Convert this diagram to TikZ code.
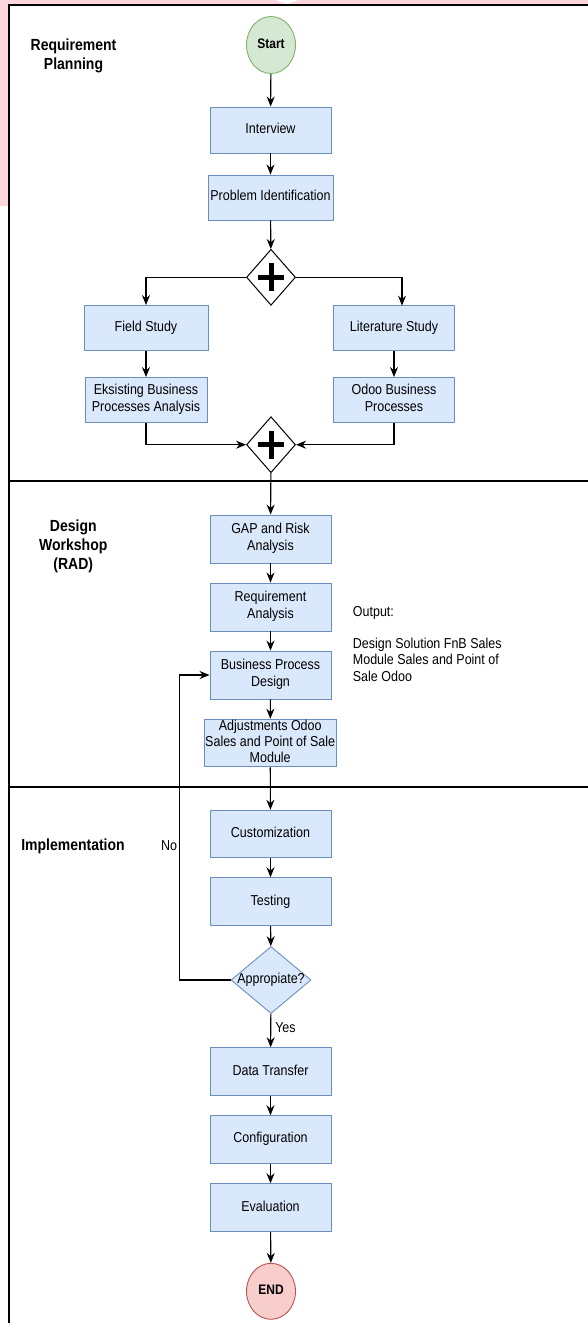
\documentclass[tikz,border=0pt]{standalone}
\usepackage{fontspec}
\setmainfont{Liberation Sans}
\usetikzlibrary{shapes.geometric,arrows.meta}
\definecolor{boxfill}{HTML}{DAE8FC}
\definecolor{boxline}{HTML}{6C8EBF}
\definecolor{startfill}{HTML}{D5E8D4}
\definecolor{startline}{HTML}{82B366}
\definecolor{endfill}{HTML}{F8CECC}
\definecolor{endline}{HTML}{B85450}
\definecolor{pinkbg}{HTML}{FFD6DC}
\newcommand{\vsc}[1]{\scalebox{1}[1.15]{\begin{tabular}{@{}c@{}}#1\end{tabular}}}
\newcommand{\vsl}[1]{\scalebox{1}[1.15]{\begin{tabular}{@{}l@{}}#1\end{tabular}}}
\tikzset{
  proc/.style={rectangle, draw=boxline, fill=boxfill, line width=0.9pt,
    minimum width=121pt, minimum height=47pt, inner sep=0pt,
    font=\fontsize{12.5}{14.6}\selectfont},
  terminal/.style={ellipse, minimum width=49pt, minimum height=57pt, inner sep=0pt,
    line width=0.9pt, font=\bfseries\fontsize{12}{14}\selectfont},
  gate/.style={diamond, draw=black, fill=white, line width=1pt,
    minimum width=49pt, minimum height=56pt, inner sep=0pt},
  decide/.style={diamond, draw=boxline, fill=boxfill, line width=0.9pt,
    minimum width=80pt, minimum height=67pt, inner sep=0pt},
  arr/.style={-{Stealth[length=10pt,width=8pt]}, line width=1.1pt},
  lane/.style={line width=1.3pt},
  lbl/.style={font=\bfseries\fontsize{14}{16.5}\selectfont},
  txt/.style={font=\fontsize{12.5}{14}\selectfont, inner sep=0pt},
  plus/.style={line width=5pt}
}
\begin{document}
\begin{tikzpicture}[x=1pt,y=-1pt]
\fill[white] (0,0) rectangle (588,1323);
\useasboundingbox (0,0) rectangle (588,1323);
% pink screenshot background
\fill[pinkbg] (0,0) rectangle (588,5);
\fill[pinkbg] (0,0) rectangle (9,206);
\fill[white] (276,0) -- (298,0) -- (287,4.5) -- cycle;
% lanes
\draw[lane] (9,1323) -- (9,5) -- (588,5);
\draw[lane] (9,481) -- (588,481);
\draw[lane] (9,787) -- (588,787);
% lane labels
\node[lbl] (lp1) at (73.5,56) {\vsc{Requirement\\Planning}};
\node[lbl] (lp2) at (73.3,547) {\vsc{Design\\Workshop\\(RAD)}};
\node[lbl] (lp3) at (73,847) {\vsc{Implementation}};
% nodes
\node[terminal, draw=startline, fill=startfill] (start) at (271,45) {\vsc{Start}};
\node[proc, minimum height=46pt] (interview) at (270.5,130) {\vsc{Interview}};
\node[proc, minimum width=125pt, minimum height=45pt] (probid) at (270.5,197.5) {\vsc{Problem Identification}};
\node[gate] (g1) at (271,277.3) {};
\draw[plus] (g1.center) ++(-13,0) -- ++(26,0);
\draw[plus] (g1.center) ++(0,-14) -- ++(0,28);
\node[proc, minimum width=124pt, minimum height=45pt] (field) at (146,328) {\vsc{Field Study}};
\node[proc, minimum height=45pt] (lit) at (394,328) {\vsc{Literature Study}};
\node[proc, minimum width=122pt, minimum height=45pt] (eks) at (146,400) {\vsc{Eksisting Business\\Processes Analysis}};
\node[proc, minimum height=45pt] (odoo) at (394,400) {\vsc{Odoo Business\\Processes}};
\node[gate] (g2) at (271,444.7) {};
\draw[plus] (g2.center) ++(-13,0) -- ++(26,0);
\draw[plus] (g2.center) ++(0,-14) -- ++(0,28);
\node[proc, minimum height=48pt] (gap) at (270.5,539) {\vsc{GAP and Risk\\Analysis}};
\node[proc, minimum height=48pt] (req) at (270.5,607) {\vsc{Requirement\\Analysis}};
\node[proc, minimum height=48pt] (bpd) at (270.5,675) {\vsc{Business Process\\Design}};
\node[proc, minimum width=132pt, minimum height=47pt, font=\fontsize{12.5}{13.8}\selectfont] (adj) at (270.2,743) {\vsc{Adjustments Odoo\\Sales and Point of Sale\\Module}};
\node[txt, anchor=west] (out1) at (352.7,613.3) {\vsl{Output:}};
\node[txt, anchor=west] (out2) at (352.7,661.7) {\vsl{Design Solution FnB Sales\\Module Sales and Point of\\Sale Odoo}};
\node[proc, minimum height=47pt] (cust) at (270.5,833.7) {\vsc{Customization}};
\node[proc, minimum height=48pt] (test) at (270.5,901.7) {\vsc{Testing}};
\node[decide, label={[font=\fontsize{12.5}{14}\selectfont]center:\vsc{Appropiate?}}] (app) at (271,980) {};
\node[proc, minimum height=48pt] (dt) at (270.5,1071.7) {\vsc{Data Transfer}};
\node[proc, minimum height=47.6pt] (conf) at (270.5,1139.5) {\vsc{Configuration}};
\node[proc, minimum height=48pt] (eval) at (270.5,1207.7) {\vsc{Evaluation}};
\node[terminal, draw=endline, fill=endfill, minimum height=56pt] (end) at (271,1291.3) {\vsc{END}};
\node[txt] (no) at (169,847) {\vsc{No}};
\coordinate (litin) at (402,305.7);
% connectors
\draw[arr] (start) -- (interview);
\draw[arr] (interview) -- (probid);
\draw[arr] (probid) -- (g1);
\draw[arr] (g1.west) -| (field.north);
\draw[arr] (g1.east) -| (litin);
\draw[arr] (field) -- (eks);
\draw[arr] (lit) -- (odoo);
\draw[arr] (eks.south) |- (g2.west);
\draw[arr] (odoo.south) |- (g2.east);
\draw[arr] (g2) -- (gap);
\draw[arr] (gap) -- (req);
\draw[arr] (req) -- (bpd);
\draw[arr] (bpd) -- (adj);
\draw[arr] (adj) -- (cust);
\draw[arr] (cust) -- (test);
\draw[arr] (test) -- (app);
\draw[arr] (app) -- node[txt, right=4pt, pos=0.45] (yes) {\vsc{Yes}} (dt);
\draw[arr] (dt) -- (conf);
\draw[arr] (conf) -- (eval);
\draw[arr] (eval) -- (end);
\draw[arr] (app.west) -- ++(-51,0) |- (bpd.west);
\end{tikzpicture}
\end{document}
